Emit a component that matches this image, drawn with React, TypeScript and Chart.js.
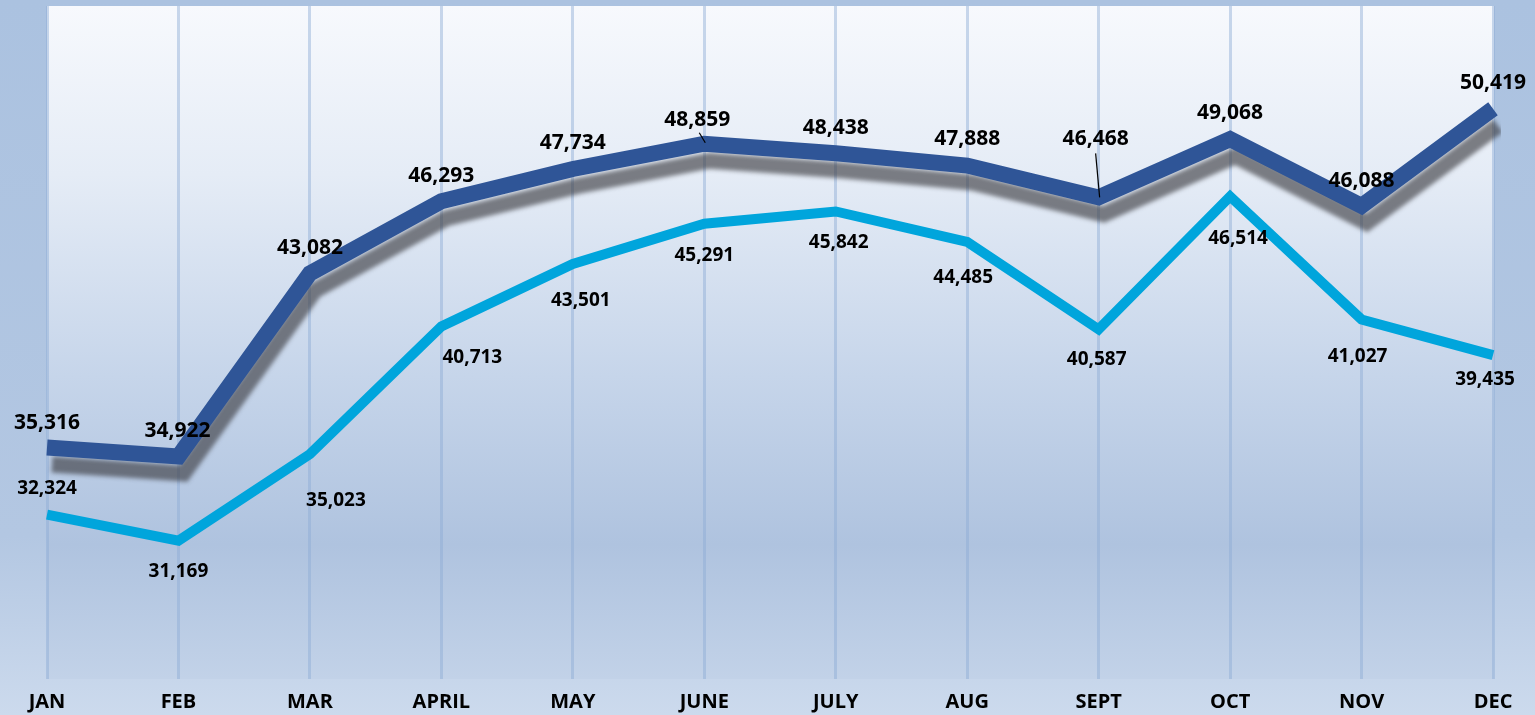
import React, { useEffect, useRef } from "react";
import { Chart, registerables } from "chart.js";

Chart.register(...registerables);

// ---- data ----
const months = ["JAN", "FEB", "MAR", "APRIL", "MAY", "JUNE", "JULY", "AUG", "SEPT", "OCT", "NOV", "DEC"];
const seriesTop = [35316, 34922, 43082, 46293, 47734, 48859, 48438, 47888, 46468, 49068, 46088, 50419];
const seriesBottom = [32324, 31169, 35023, 40713, 43501, 45291, 45842, 44485, 40587, 46514, 41027, 39435];

// ---- label layout (text centre offset from point, px) ----
const topLabelOffsets: [number, number][] = [
  [0, -25], [-1, -25], [0, -25], [0, -25], [0, -26], [-7, -24],
  [0, -25], [0, -27], [-3, -58], [0, -26], [0, -25], [0, -26],
];
const topLeaders: Record<number, [number, number, number, number]> = {
  5: [-5, -11, 1, -1],
  8: [-3, -44, 1, 0],
};
const bottomLabelOffsets: [number, number][] = [
  [0, -26], [0, 31], [26, 46], [31, 31], [8, 37], [0, 32],
  [3, 31], [-4, 36], [-2, 30], [8, 42], [-4, 37], [-8, 24],
];

const fmt = (v: number) => v.toLocaleString("en-US");

const bgPlugin = {
  id: "bgPlugin",
  beforeDraw(chart: any) {
    const { ctx, chartArea, width, height } = chart;
    ctx.save();
    const g = ctx.createLinearGradient(0, 0, 0, height);
    g.addColorStop(0, "#abc2e0");
    g.addColorStop(0.75, "#b3c7e2");
    g.addColorStop(1, "#ccdaed");
    ctx.fillStyle = g;
    ctx.fillRect(0, 0, width, height);
    const { left, right, top, bottom } = chartArea;
    const pg = ctx.createLinearGradient(0, top, 0, bottom);
    pg.addColorStop(0, "#f7f9fd");
    pg.addColorStop(0.25, "#e5ecf6");
    pg.addColorStop(0.55, "#c6d5ea");
    pg.addColorStop(0.8, "#afc3df");
    pg.addColorStop(1, "#c2d2e8");
    ctx.fillStyle = pg;
    ctx.fillRect(left, top, right - left + 1, bottom - top);
    ctx.restore();
  },
};

const shadowPlugin = {
  id: "shadowPlugin",
  beforeDatasetDraw(chart: any, args: any) {
    if (args.index === 0) {
      const ctx = chart.ctx;
      ctx.save();
      ctx.shadowColor = "rgba(55,55,60,0.62)";
      ctx.shadowBlur = 4;
      ctx.shadowOffsetX = 5;
      ctx.shadowOffsetY = 17;
    }
  },
  afterDatasetDraw(chart: any, args: any) {
    if (args.index === 0) chart.ctx.restore();
  },
};

const labelPlugin = {
  id: "labelPlugin",
  afterDatasetsDraw(chart: any) {
    const ctx = chart.ctx;
    ctx.save();
    ctx.textAlign = "center";
    ctx.textBaseline = "middle";
    ctx.fillStyle = "#000";
    const m0 = chart.getDatasetMeta(0);
    const m1 = chart.getDatasetMeta(1);
    ctx.font = "bold 21px 'Open Sans'";
    m0.data.forEach((pt: any, i: number) => {
      const [dx, dy] = topLabelOffsets[i];
      ctx.fillText(fmt(seriesTop[i]), pt.x + dx, pt.y + dy);
      const ld = topLeaders[i];
      if (ld) {
        ctx.beginPath();
        ctx.strokeStyle = "#000";
        ctx.lineWidth = 1.2;
        ctx.moveTo(pt.x + ld[0], pt.y + ld[1]);
        ctx.lineTo(pt.x + ld[2], pt.y + ld[3]);
        ctx.stroke();
      }
    });
    ctx.font = "bold 19px 'Open Sans'";
    m1.data.forEach((pt: any, i: number) => {
      const [dx, dy] = bottomLabelOffsets[i];
      ctx.fillText(fmt(seriesBottom[i]), pt.x + dx, pt.y + dy);
    });
    ctx.restore();
  },
};

export default function App() {
  const ref = useRef<HTMLCanvasElement>(null);
  useEffect(() => {
    if (!ref.current) return;
    const chart = new Chart(ref.current, {
      type: "line",
      data: {
        labels: months,
        datasets: [
          {
            label: "Top",
            data: seriesTop,
            borderColor: "#2f5597",
            borderWidth: 16,
            pointRadius: 0,
            tension: 0,
            borderJoinStyle: "miter",
          },
          {
            label: "Bottom",
            data: seriesBottom,
            borderColor: "#00a5dc",
            borderWidth: 10,
            pointRadius: 0,
            tension: 0,
            borderJoinStyle: "miter",
          },
        ],
      },
      options: {
        responsive: false,
        animation: false,
        layout: { padding: { left: 47, right: 42, top: 6, bottom: 0 } },
        plugins: { legend: { display: false }, tooltip: { enabled: false } },
        scales: {
          x: {
            offset: false,
            grid: { color: "rgba(140,170,212,0.45)", lineWidth: 3, drawTicks: false },
            border: { display: false },
            ticks: {
              color: "#000",
              font: { family: "'Open Sans'", size: 20, weight: "bold" },
              padding: 11,
              maxRotation: 0,
              autoSkip: false,
            },
            afterFit: (s: any) => {
              s.height = 36;
            },
          },
          y: { display: false, min: 25000, max: 55000 },
        },
      },
      plugins: [bgPlugin, shadowPlugin, labelPlugin],
    });
    return () => chart.destroy();
  }, []);
  return (
    <div style={{ position: "fixed", left: 0, top: 0, width: 1535, height: 715 }}>
      <canvas ref={ref} width={1535} height={715} style={{ display: "block" }} />
    </div>
  );
}
